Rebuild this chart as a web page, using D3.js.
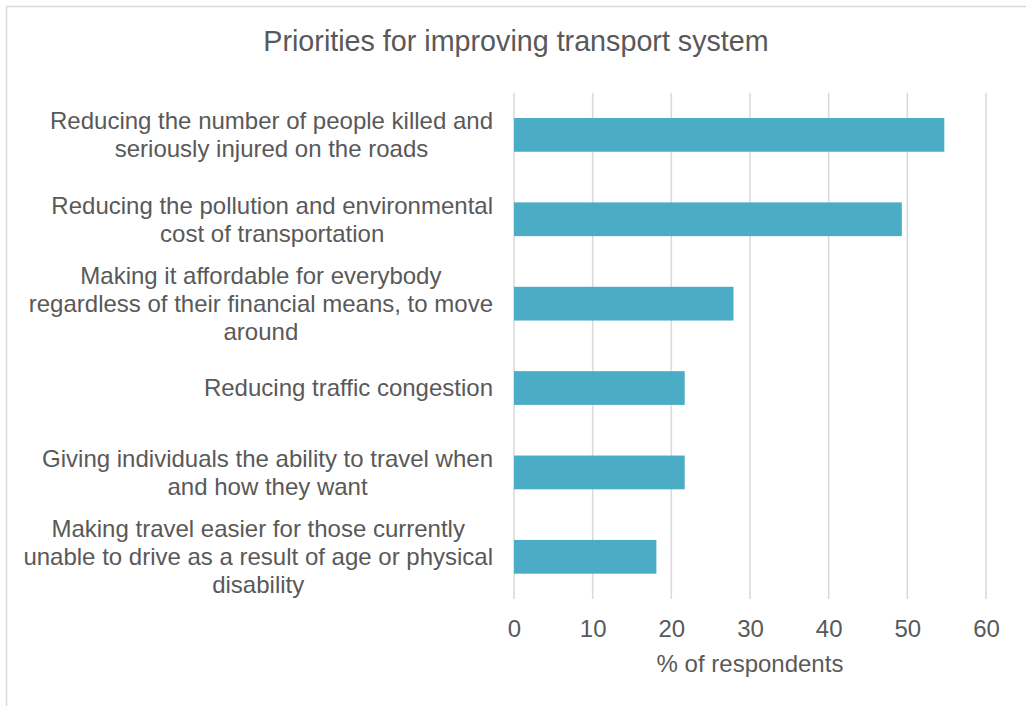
<!DOCTYPE html>
<html>
<head>
<meta charset="utf-8">
<script src="https://cdn.jsdelivr.net/npm/d3@7"></script>
<style>
  html, body { margin: 0; padding: 0; background: #fff; }
  svg { display: block; font-family: "Liberation Sans", Arial, sans-serif; }
</style>
</head>
<body>
<svg id="chart" width="1026" height="706"></svg>
<script>
// Survey categories (top to bottom), each label split into its display lines
const categories = [
  "Reducing the number of people killed and seriously injured on the roads",
  "Reducing the pollution and environmental cost of transportation",
  "Making it affordable for everybody regardless of their financial means, to move around",
  "Reducing traffic congestion",
  "Giving individuals the ability to travel when and how they want",
  "Making travel easier for those currently unable to drive as a result of age or physical disability"
];
const labelLines = [
  ["Reducing the number of people killed and", "seriously injured on the roads"],
  ["Reducing the pollution and environmental", "cost of transportation"],
  ["Making it affordable for everybody", "regardless of their financial means, to move", "around"],
  ["Reducing traffic congestion"],
  ["Giving individuals the ability to travel when", "and how they want"],
  ["Making travel easier for those currently", "unable to drive as a result of age or physical", "disability"]
];
const values = [54.7, 49.3, 27.9, 21.7, 21.7, 18.1];
const xTicks = [0, 10, 20, 30, 40, 50, 60];

const titleText = "Priorities for improving transport system";
const xTitle = "% of respondents";

const textColor = "#595959";
const gridColor = "#D9D9D9";
const barColor = "#4BACC6";

const svg = d3.select("#chart");

// Chart area frame (extends past the visible window on the right and bottom)
svg.append("rect")
  .attr("x", 6.5).attr("y", 6.5)
  .attr("width", 1040).attr("height", 720)
  .attr("fill", "#fff")
  .attr("stroke", gridColor)
  .attr("stroke-width", 1.5);

const plot = { left: 514, right: 986, top: 92.7, bottom: 599 };

const x = d3.scaleLinear().domain([0, 60]).range([plot.left, plot.right]);
const y = d3.scaleBand().domain(categories).range([plot.top, plot.bottom])
  .paddingInner(0.6).paddingOuter(0.3);

// Vertical gridlines
svg.append("g")
  .selectAll("line")
  .data(xTicks)
  .join("line")
  .attr("x1", d => x(d)).attr("x2", d => x(d))
  .attr("y1", plot.top).attr("y2", plot.bottom)
  .attr("stroke", gridColor)
  .attr("stroke-width", 1.5);

// Bars
svg.append("g")
  .selectAll("rect")
  .data(categories)
  .join("rect")
  .attr("x", x(0))
  .attr("y", d => y(d))
  .attr("width", (d, i) => x(values[i]) - x(0))
  .attr("height", y.bandwidth())
  .attr("fill", barColor);

// X axis tick labels
const xAxis = d3.axisBottom(x).tickValues(xTicks).tickSize(0).tickPadding(0);
const xg = svg.append("g")
  .attr("transform", `translate(0, ${plot.bottom})`)
  .call(xAxis);
xg.select(".domain").remove();
xg.selectAll("text")
  .attr("y", 0)
  .attr("dy", 0)
  .attr("transform", "translate(0, 38)")
  .attr("fill", textColor)
  .style("font-size", "24px")
  .style("font-family", "Liberation Sans, Arial, sans-serif");

// Category labels: multi-line, centred within a right-aligned block
const lineHeight = 28;
const labelFont = 24;
const labelRight = 493;
const lg = svg.append("g")
  .style("font-size", labelFont + "px")
  .attr("fill", textColor);

categories.forEach((c, i) => {
  const lines = labelLines[i];
  const cy = y(c) + y.bandwidth() / 2;
  const g = lg.append("g");
  const texts = g.selectAll("text")
    .data(lines)
    .join("text")
    .attr("y", (d, k) => cy + (k - (lines.length - 1) / 2) * lineHeight + labelFont * 0.35)
    .attr("text-anchor", "middle")
    .text(d => d);
  // width of the widest line sets the block; centre lines inside it
  const w = d3.max(texts.nodes(), n => n.getComputedTextLength());
  texts.attr("x", labelRight - w / 2);
});

// Title
svg.append("text")
  .attr("x", 516)
  .attr("y", 51)
  .attr("text-anchor", "middle")
  .attr("fill", textColor)
  .style("font-size", "28.7px")
  .text(titleText);

// X axis title
svg.append("text")
  .attr("x", x(30))
  .attr("y", 671.5)
  .attr("text-anchor", "middle")
  .attr("fill", textColor)
  .style("font-size", "24px")
  .text(xTitle);
</script>
</body>
</html>
